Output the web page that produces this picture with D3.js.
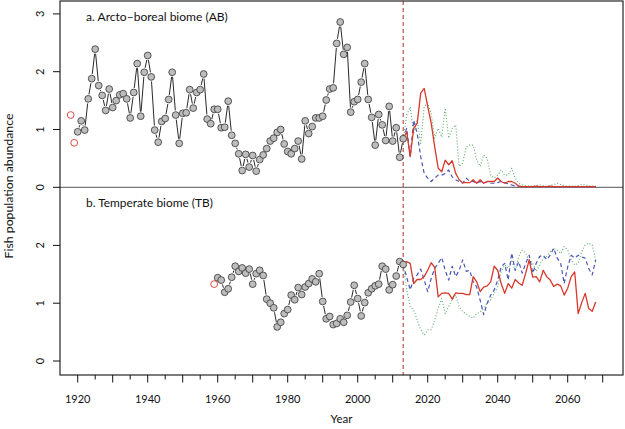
<!DOCTYPE html>
<html><head><meta charset="utf-8">
<script src="https://cdn.jsdelivr.net/npm/d3@7"></script>
<style>
html,body{margin:0;padding:0;background:#fff;}
text{font-family:Lato,"Noto Sans",sans-serif;fill:#111;}
</style></head>
<body><svg id="c" width="625" height="429"></svg>
<script>
// ---------- data ----------
const abObsStart = 1920;
const abObs = [0.96,1.15,0.99,1.53,1.88,2.39,1.76,1.59,1.33,1.70,
  1.38,1.50,1.60,1.62,1.53,1.20,1.64,2.14,1.23,1.99,
  2.28,1.91,0.99,0.78,1.14,1.19,1.52,1.99,1.25,0.76,
  1.28,1.29,1.69,1.37,1.64,1.69,1.96,1.18,1.10,1.35,
  1.35,1.03,1.04,1.49,0.90,0.76,0.58,0.29,0.57,0.35,
  0.55,0.28,0.48,0.56,0.67,0.80,0.85,0.95,1.00,0.75,
  0.62,0.58,0.67,0.80,0.49,1.15,0.93,1.05,1.20,1.20,
  1.23,1.51,1.70,1.72,2.49,2.86,2.30,2.42,1.30,1.48,
  1.52,1.82,2.14,1.52,1.21,0.73,1.26,1.08,0.81,1.40,
  0.80,1.03,0.52,0.84];
const abOldYears = [1918,1919];
const abOld = [1.25,0.77];

const tbObsStart = 1960;
const tbObs = [1.44,1.40,1.19,1.25,1.45,1.64,1.55,1.61,1.52,1.59,
  1.33,1.51,1.57,1.48,1.07,1.00,0.92,0.59,0.67,0.82,
  0.89,1.14,1.06,1.27,1.15,1.28,1.34,1.42,1.37,1.51,
  1.03,0.73,0.77,0.63,0.65,0.73,0.67,0.79,1.02,1.31,
  1.08,0.78,1.01,1.18,1.25,1.30,1.33,1.64,1.59,1.23,
  1.32,1.47,1.72,1.67];
const tbOldYears = [1959];
const tbOld = [1.33];

const projStart = 2013;
const abRed = [0.84,0.96,0.53,1.02,1.11,1.63,1.71,1.40,1.11,0.70,
  0.33,0.27,0.47,0.39,0.46,0.24,0.13,0.08,0.08,0.08,
  0.13,0.07,0.13,0.07,0.10,0.10,0.10,0.16,0.10,0.07,
  0.10,0.10,0.07,0.02,0.01,0.01,0.01,0.01,0.02,0.01,
  0.01,0.01,0.02,0.01,0.01,0.01,0.01,0.01,0.01,0.01,
  0.01,0.01,0.01,0.01,0.01,0.01];
const abBlue = [0.84,1.02,0.53,1.16,0.93,0.53,0.24,0.16,0.10,0.16,
  0.21,0.21,0.24,0.30,0.18,0.13,0.10,0.07,0.16,0.10,
  0.10,0.07,0.10,0.07,0.10,0.07,0.07,0.08,0.10,0.08,
  0.06,0.04,0.02,0.02,0.01,0.01,0.01,0.01,0.01,0.01,
  0.01,0.01,0.01,0.01,0.01,0.01,0.01,0.01,0.01,0.01,
  0.01,0.01,0.01,0.01,0.01,0.01];
const abGreen = [0.84,1.25,1.39,0.93,1.16,0.76,1.40,1.46,1.28,0.85,
  1.02,0.87,1.37,0.85,1.02,1.08,0.36,0.42,0.70,0.73,
  0.73,0.47,0.36,0.56,0.50,0.21,0.16,0.21,0.30,0.21,
  0.21,0.33,0.16,0.07,0.04,0.03,0.02,0.02,0.03,0.04,
  0.03,0.02,0.03,0.05,0.07,0.05,0.03,0.02,0.02,0.02,
  0.03,0.05,0.04,0.03,0.02,0.02];
const tbRed = [1.67,1.72,1.69,1.34,1.41,1.41,1.46,1.57,1.70,1.62,
  1.11,1.17,1.18,1.17,1.07,1.18,1.17,1.17,1.15,1.15,
  1.46,1.37,1.20,1.28,1.30,1.37,1.64,1.57,1.34,1.17,
  1.34,1.26,1.41,1.35,1.31,1.52,1.75,1.45,1.46,1.37,
  1.57,1.46,1.40,1.29,1.33,1.30,1.14,1.26,1.46,1.54,
  0.82,1.01,1.17,0.91,0.86,1.02];
const tbBlue = [1.67,1.45,1.23,1.43,1.49,1.59,1.40,1.20,1.43,1.60,
  1.69,1.79,1.57,1.40,1.64,1.46,1.57,1.75,1.55,1.57,
  1.37,1.28,1.05,0.80,1.00,1.14,1.23,1.40,1.63,1.69,
  1.40,1.87,1.57,1.72,1.52,1.69,1.83,1.52,1.69,1.81,
  1.83,1.75,1.83,1.95,1.78,1.69,1.34,1.63,1.83,1.78,
  1.83,1.80,1.78,1.60,1.49,1.75];
const tbGreen = [1.67,1.23,0.94,0.88,0.71,0.54,0.45,0.54,0.54,0.71,
  0.91,1.08,0.82,0.94,1.06,1.14,0.94,0.85,0.82,0.77,
  0.74,0.82,0.85,0.91,1.00,1.06,1.17,1.29,1.55,1.66,
  1.60,1.75,1.55,1.81,1.92,1.86,1.75,1.69,1.55,1.66,
  1.78,1.81,1.89,1.95,1.92,1.86,1.98,1.92,1.75,1.66,
  1.69,1.89,2.01,2.04,2.01,1.75];

const xTickYears = d3.range(1920, 2071, 5);
const xLabelYears = [1920,1940,1960,1980,2000,2020,2040,2060];
const abTicks = [0,1,2,3];
const tbTicks = [0,1,2];
const scenarioYear = 2013;
const titles = ["a. Arcto\u2013boreal biome (AB)", "b. Temperate biome (TB)"];

// ---------- layout ----------
const L = 60, R = 623, T = 1, B = 375, MID = 187.3;
const x = d3.scaleLinear().domain([1920, 2060]).range([77.7, 567.7]);
const yA = d3.scaleLinear().domain([0, 3]).range([MID, 13.9]);
const yB = d3.scaleLinear().domain([0, 2]).range([361, 245.4]);

const svg = d3.select("#c");

// vertical dashed line
svg.append("line").attr("x1", x(scenarioYear)).attr("x2", x(scenarioYear))
  .attr("y1", T).attr("y2", B).attr("stroke", "#c0504d")
  .attr("stroke-width", 1.2).attr("stroke-dasharray", "4,3");

// separator
svg.append("line").attr("x1", L).attr("x2", R).attr("y1", MID).attr("y2", MID)
  .attr("stroke", "#777").attr("stroke-width", 1.3);

function proj(vals, y, color, dash, w, op) {
  const line = d3.line().x((d, i) => x(projStart + i)).y(d => y(d));
  svg.append("path").attr("d", line(vals)).attr("fill", "none")
    .attr("stroke", color).attr("stroke-width", w)
    .attr("stroke-dasharray", dash).attr("stroke-opacity", op)
    .attr("stroke-linejoin", "round");
}

function observed(start, vals, y) {
  const r = 3.4, gap = r + 1.2;
  const pts = vals.map((v, i) => [x(start + i), y(v)]);
  const g = svg.append("g");
  for (let i = 0; i < pts.length - 1; i++) {
    const [x0, y0] = pts[i], [x1, y1] = pts[i + 1];
    const dx = x1 - x0, dy = y1 - y0, d = Math.hypot(dx, dy);
    if (d <= 2 * gap) continue;
    const ux = dx / d, uy = dy / d;
    g.append("line").attr("x1", x0 + ux * gap).attr("y1", y0 + uy * gap)
      .attr("x2", x1 - ux * gap).attr("y2", y1 - uy * gap)
      .attr("stroke", "#111").attr("stroke-width", 0.9);
  }
  g.selectAll("circle").data(pts).join("circle")
    .attr("cx", d => d[0]).attr("cy", d => d[1]).attr("r", r)
    .attr("fill", "#bdbdbd").attr("stroke", "#333").attr("stroke-width", 0.8);
}

function oldPts(years, vals, y) {
  svg.append("g").selectAll("circle").data(years).join("circle")
    .attr("cx", d => x(d)).attr("cy", (d, i) => y(vals[i])).attr("r", 3.4)
    .attr("fill", "none").attr("stroke", "#d9382b").attr("stroke-width", 0.9);
}

// AB panel
proj(abGreen, yA, "#3d9a48", "1,2", 1.1, 0.85);
proj(abBlue, yA, "#4a55b8", "4,3", 1.2, 1);
proj(abRed, yA, "#d9382b", null, 1.3, 1);
observed(abObsStart, abObs, yA);
oldPts(abOldYears, abOld, yA);

// TB panel
proj(tbGreen, yB, "#3d9a48", "1,2", 1.1, 0.85);
proj(tbBlue, yB, "#4a55b8", "4,3", 1.2, 1);
proj(tbRed, yB, "#d9382b", null, 1.3, 1);
observed(tbObsStart, tbObs, yB);
oldPts(tbOldYears, tbOld, yB);

// box
svg.append("rect").attr("x", L).attr("y", T).attr("width", R - L).attr("height", B - T)
  .attr("fill", "none").attr("stroke", "#111").attr("stroke-width", 1.1);

// x axis
const gx = svg.append("g");
gx.selectAll("line").data(xTickYears).join("line")
  .attr("x1", d => x(d)).attr("x2", d => x(d)).attr("y1", B)
  .attr("y2", d => B + (d % 10 === 0 ? 7.5 : 4.5)).attr("stroke", "#111").attr("stroke-width", 1);
gx.selectAll("text").data(xLabelYears).join("text")
  .attr("x", d => x(d)).attr("y", 402.5).attr("text-anchor", "middle")
  .attr("font-size", 11).text(d => d);

// y axes
function yAxis(ticks, y) {
  const g = svg.append("g");
  g.selectAll("line").data(ticks).join("line")
    .attr("x1", L - 7).attr("x2", L).attr("y1", d => y(d)).attr("y2", d => y(d))
    .attr("stroke", "#111").attr("stroke-width", 1);
  g.selectAll("text").data(ticks).join("text")
    .attr("transform", d => `translate(43.5,${y(d)}) rotate(-90)`)
    .attr("text-anchor", "middle").attr("font-size", 11).text(d => d);
}
yAxis(abTicks, yA);
yAxis(tbTicks, yB);

function fitText(sel, target) {
  const w = sel.node().getComputedTextLength();
  const fs = parseFloat(sel.attr("font-size"));
  sel.attr("font-size", fs * target / w);
}

fitText(svg.append("text").attr("x", 86).attr("y", 20.7).attr("font-size", 12).text(titles[0]), 142);
fitText(svg.append("text").attr("x", 86).attr("y", 207.3).attr("font-size", 12).text(titles[1]), 127);

svg.append("text").attr("x", (L + R) / 2).attr("y", 423).attr("text-anchor", "middle")
  .attr("font-size", 11.5).text("Year");
fitText(svg.append("text").attr("transform", `translate(12.5,186) rotate(-90)`)
  .attr("text-anchor", "middle").attr("font-size", 12).text("Fish population abundance"), 145);
</script></body></html>
